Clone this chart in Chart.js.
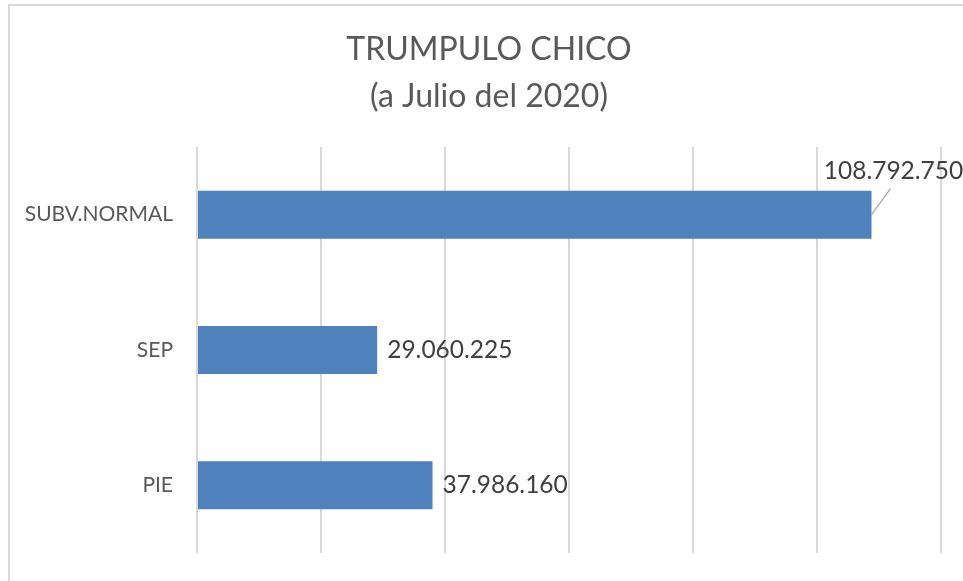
<!DOCTYPE html>
<html>
<head>
<meta charset="utf-8">
<script src="https://cdn.jsdelivr.net/npm/chart.js@4"></script>
<style>
  html, body { margin: 0; padding: 0; background: #fff; }
  #wrap { width: 963px; height: 581px; position: relative; }
</style>
</head>
<body>
<div id="wrap"><canvas id="chart" width="963" height="581"></canvas></div>
<script>
const categories = ["SUBV.NORMAL", "SEP", "PIE"];
const values = [108792750, 29060225, 37986160];
const titleLines = ["TRUMPULO CHICO", "(a Julio del 2020)"];

const FONT = "Lato, 'Open Sans', sans-serif";

function fmt(n) {
  return String(n).replace(/\B(?=(\d{3})+(?!\d))/g, ".");
}

// frame + title (title is a bit right of the canvas centre, so drawn by hand)
const framePlugin = {
  id: "frame",
  beforeDraw(chart) {
    const ctx = chart.ctx;
    ctx.save();
    ctx.strokeStyle = "#d9d9d9";
    ctx.lineWidth = 2;
    ctx.strokeRect(9, 5, 1200, 1200);
    ctx.fillStyle = "#595959";
    ctx.font = "32px " + FONT;
    ctx.textAlign = "center";
    ctx.textBaseline = "middle";
    titleLines.forEach((t, i) => ctx.fillText(t, 489, 50 + i * 47));
    ctx.restore();
  }
};

// value labels next to the bars
const labelPlugin = {
  id: "valueLabels",
  afterDatasetsDraw(chart) {
    const ctx = chart.ctx;
    const meta = chart.getDatasetMeta(0);
    ctx.save();
    ctx.font = "24.5px " + FONT;
    ctx.fillStyle = "#404040";
    meta.data.forEach((bar, i) => {
      const txt = fmt(values[i]);
      if (i === 0) {
        // label placed above with a leader line
        ctx.strokeStyle = "#a6a6a6";
        ctx.lineWidth = 1.2;
        ctx.beginPath();
        ctx.moveTo(bar.x, bar.y);
        ctx.lineTo(bar.x + 19, bar.y - 26);
        ctx.stroke();
        ctx.textAlign = "center";
        ctx.textBaseline = "middle";
        ctx.fillText(txt, bar.x + 22, bar.y - 44);
      } else {
        ctx.textAlign = "left";
        ctx.textBaseline = "middle";
        ctx.fillText(txt, bar.x + 10, bar.y);
      }
    });
    ctx.restore();
  }
};

new Chart(document.getElementById("chart"), {
  type: "bar",
  data: {
    labels: categories,
    datasets: [{
      data: values,
      backgroundColor: "#4f81bd",
      borderWidth: 0,
      categoryPercentage: 0.355,
      barPercentage: 1
    }]
  },
  options: {
    indexAxis: "y",
    responsive: false,
    animation: false,
    devicePixelRatio: 1,
    layout: { padding: { left: 0, right: 22, top: 147, bottom: 28 } },
    plugins: {
      legend: { display: false },
      tooltip: { enabled: false },
      title: { display: false }
    },
    scales: {
      x: {
        min: 0,
        max: 120000000,
        ticks: { display: false, stepSize: 20000000 },
        grid: { color: "#d9d9d9", lineWidth: 2, drawTicks: false },
        border: { display: false }
      },
      y: {
        grid: { display: false, drawTicks: false },
        border: { display: false },
        ticks: { color: "#595959", font: { family: FONT, size: 21 }, padding: 24 },
        afterFit(scale) {
          scale.width = 197;
          scale.paddingTop = 0;
          scale.paddingBottom = 0;
        }
      }
    }
  },
  plugins: [framePlugin, labelPlugin]
});
</script>
</body>
</html>
